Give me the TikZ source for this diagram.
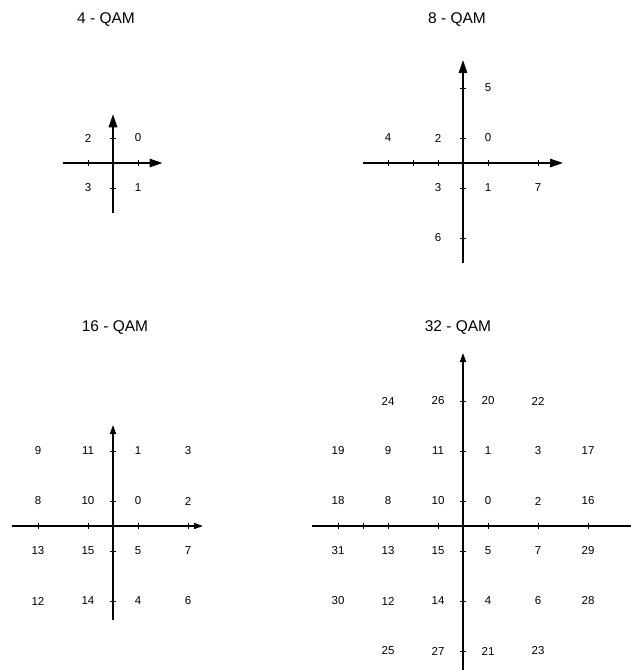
\documentclass[tikz,border=0pt]{standalone}
\usepackage{fontspec}
\setmainfont{Liberation Sans}
\usetikzlibrary{arrows.meta}
\begin{document}
\begin{tikzpicture}[x=1pt,y=1pt,
  axis/.style={line width=1.4pt},
  bigarr/.style={-{Triangle[length=13pt,width=8.5pt]}},
  smallarr/.style={-{Triangle[length=9pt,width=6pt]}},
  tickmark/.style={line width=0.9pt},
  lab/.style={font=\fontsize{11.5}{13}\selectfont, inner sep=0pt},
  ttl/.style={font=\fontsize{15.5}{18}\selectfont, inner sep=0pt}]
\useasboundingbox (0,0) rectangle (631,-670);
\fill[white] (0,0) rectangle (631,-670);

% titles
\node[ttl] (t4)  at (106,-20)  {4 - QAM};
\node[ttl] (t8)  at (457,-20)  {8 - QAM};
\node[ttl] (t16) at (115,-328) {16 - QAM};
\node[ttl] (t32) at (458,-328) {32 - QAM};

% ---------- 4-QAM ----------
\begin{scope}[xshift=113pt, yshift=-163pt, x=25pt, y=25pt]
  \coordinate (a4l) at (-2,0);   \coordinate (a4r) at (1.98,0);
  \coordinate (a4b) at (0,-2);   \coordinate (a4t) at (0,1.95);
  \draw[axis,bigarr] (a4l) -- (a4r);
  \draw[axis,bigarr] (a4b) -- (a4t);
  \foreach \t in {-1,1} {
    \draw[tickmark] (\t,-0.12) -- (\t,0.12);
    \draw[tickmark] (-0.12,\t) -- (0.12,\t);
  }
  \node[lab] (q4s0) at (1,1)   {0};
  \node[lab] (q4s1) at (1,-1)  {1};
  \node[lab] (q4s2) at (-1,1)  {2};
  \node[lab] (q4s3) at (-1,-1) {3};
\end{scope}

% ---------- 8-QAM ----------
\begin{scope}[xshift=463pt, yshift=-163pt, x=25pt, y=25pt]
  \coordinate (a8l) at (-4,0);   \coordinate (a8r) at (4,0);
  \coordinate (a8b) at (0,-4);   \coordinate (a8t) at (0,4.12);
  \draw[axis,bigarr] (a8l) -- (a8r);
  \draw[axis,bigarr] (a8b) -- (a8t);
  \foreach \t in {-3,-2,-1,1,3} {
    \draw[tickmark] (\t,-0.12) -- (\t,0.12);
  }
  \foreach \t in {-3,-1,1,3} {
    \draw[tickmark] (-0.12,\t) -- (0.12,\t);
  }
  \node[lab] (q8s0) at (1,1)   {0};
  \node[lab] (q8s1) at (1,-1)  {1};
  \node[lab] (q8s2) at (-1,1)  {2};
  \node[lab] (q8s3) at (-1,-1) {3};
  \node[lab] (q8s4) at (-3,1)  {4};
  \node[lab] (q8s5) at (1,3)   {5};
  \node[lab] (q8s6) at (-1,-3) {6};
  \node[lab] (q8s7) at (3,-1)  {7};
\end{scope}

% ---------- 16-QAM ----------
\begin{scope}[xshift=113pt, yshift=-526pt, x=25pt, y=25pt]
  \coordinate (a16l) at (-4.04,0);  \coordinate (a16r) at (3.6,0);
  \coordinate (a16b) at (0,-3.76);  \coordinate (a16t) at (0,4.04);
  \draw[axis,smallarr] (a16l) -- (a16r);
  \draw[axis,smallarr] (a16b) -- (a16t);
  \foreach \t in {-3,-1,1,3} {
    \draw[tickmark] (\t,-0.12) -- (\t,0.12);
    \draw[tickmark] (-0.12,\t) -- (0.12,\t);
  }
  \node[lab] (q16s9)  at (-3,3)  {9};
  \node[lab] (q16s11) at (-1,3)  {11};
  \node[lab] (q16s1)  at (1,3)   {1};
  \node[lab] (q16s3)  at (3,3)   {3};
  \node[lab] (q16s8)  at (-3,1)  {8};
  \node[lab] (q16s10) at (-1,1)  {10};
  \node[lab] (q16s0)  at (1,1)   {0};
  \node[lab] (q16s2)  at (3,1)   {2};
  \node[lab] (q16s13) at (-3,-1) {13};
  \node[lab] (q16s15) at (-1,-1) {15};
  \node[lab] (q16s5)  at (1,-1)  {5};
  \node[lab] (q16s7)  at (3,-1)  {7};
  \node[lab] (q16s12) at (-3,-3) {12};
  \node[lab] (q16s14) at (-1,-3) {14};
  \node[lab] (q16s4)  at (1,-3)  {4};
  \node[lab] (q16s6)  at (3,-3)  {6};
\end{scope}

% ---------- 32-QAM ----------
\begin{scope}[xshift=463pt, yshift=-526pt, x=25pt, y=25pt]
  \coordinate (a32l) at (-6.04,0);  \coordinate (a32r) at (7.1,0);
  \coordinate (a32b) at (0,-6.0);   \coordinate (a32t) at (0,6.92);
  \draw[axis,smallarr] (a32l) -- (a32r);
  \draw[axis,smallarr] (a32b) -- (a32t);
  \foreach \t in {-5,-4,-3,-1,1,3,5} {
    \draw[tickmark] (\t,-0.12) -- (\t,0.12);
  }
  \foreach \t in {-5,-3,-1,1,3,5} {
    \draw[tickmark] (-0.12,\t) -- (0.12,\t);
  }
  \node[lab] (q32s24) at (-3,5)  {24};
  \node[lab] (q32s26) at (-1,5)  {26};
  \node[lab] (q32s20) at (1,5)   {20};
  \node[lab] (q32s22) at (3,5)   {22};
  \node[lab] (q32s19) at (-5,3)  {19};
  \node[lab] (q32s9)  at (-3,3)  {9};
  \node[lab] (q32s11) at (-1,3)  {11};
  \node[lab] (q32s1)  at (1,3)   {1};
  \node[lab] (q32s3)  at (3,3)   {3};
  \node[lab] (q32s17) at (5,3)   {17};
  \node[lab] (q32s18) at (-5,1)  {18};
  \node[lab] (q32s8)  at (-3,1)  {8};
  \node[lab] (q32s10) at (-1,1)  {10};
  \node[lab] (q32s0)  at (1,1)   {0};
  \node[lab] (q32s2)  at (3,1)   {2};
  \node[lab] (q32s16) at (5,1)   {16};
  \node[lab] (q32s31) at (-5,-1) {31};
  \node[lab] (q32s13) at (-3,-1) {13};
  \node[lab] (q32s15) at (-1,-1) {15};
  \node[lab] (q32s5)  at (1,-1)  {5};
  \node[lab] (q32s7)  at (3,-1)  {7};
  \node[lab] (q32s29) at (5,-1)  {29};
  \node[lab] (q32s30) at (-5,-3) {30};
  \node[lab] (q32s12) at (-3,-3) {12};
  \node[lab] (q32s14) at (-1,-3) {14};
  \node[lab] (q32s4)  at (1,-3)  {4};
  \node[lab] (q32s6)  at (3,-3)  {6};
  \node[lab] (q32s28) at (5,-3)  {28};
  \node[lab] (q32s25) at (-3,-5) {25};
  \node[lab] (q32s27) at (-1,-5) {27};
  \node[lab] (q32s21) at (1,-5)  {21};
  \node[lab] (q32s23) at (3,-5)  {23};
\end{scope}
\end{tikzpicture}
\end{document}
